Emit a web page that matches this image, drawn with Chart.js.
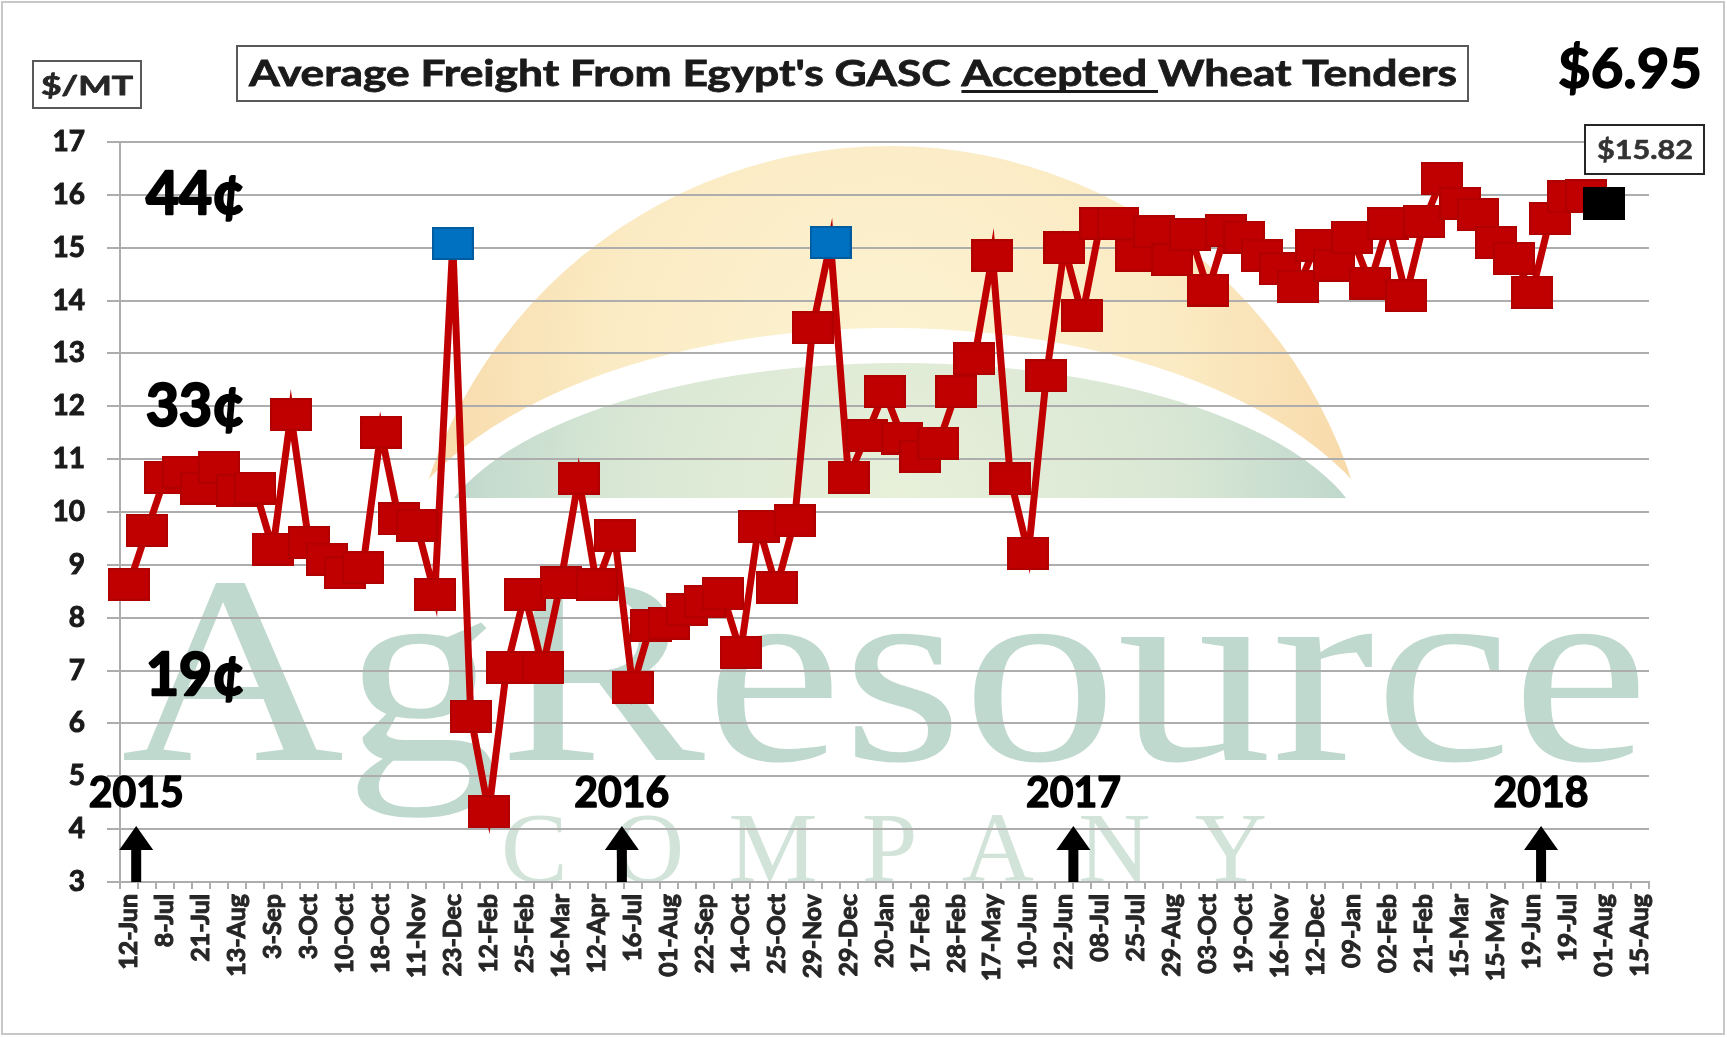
<!DOCTYPE html>
<html>
<head>
<meta charset="utf-8">
<title>Average Freight From Egypt's GASC Accepted Wheat Tenders</title>
<script src="https://cdn.jsdelivr.net/npm/chart.js@4.4.1/dist/chart.umd.min.js"></script>
<style>
  html, body { margin: 0; padding: 0; background: #fff; }
  canvas { display: block; }
</style>
</head>
<body>
<canvas id="freightChart" width="1727" height="1038"></canvas>
<script>
// one date label for every second tender
const tickDates = ['12-Jun', '8-Jul', '21-Jul', '13-Aug', '3-Sep', '3-Oct', '10-Oct', '18-Oct', '11-Nov', '23-Dec',
  '12-Feb', '25-Feb', '16-Mar', '12-Apr', '16-Jul', '01-Aug', '22-Sep', '14-Oct', '25-Oct', '29-Nov',
  '29-Dec', '20-Jan', '17-Feb', '28-Feb', '17-May', '10-Jun', '22-Jun', '08-Jul', '25-Jul', '29-Aug',
  '03-Oct', '19-Oct', '16-Nov', '12-Dec', '09-Jan', '02-Feb', '21-Feb', '15-Mar', '15-May', '19-Jun',
  '19-Jul', '01-Aug', '15-Aug'];

// average freight per accepted tender, $/MT
const freight = [8.63, 9.65, 10.65, 10.75, 10.45, 10.85, 10.4, 10.45, 9.3, 11.84,
  9.42, 9.11, 8.85, 8.95, 11.51, 9.87, 9.75, 8.44, 15.08, 6.14,
  4.33, 7.06, 8.44, 7.06, 8.66, 10.64, 8.62, 9.56, 6.68, 7.85,
  7.9, 8.15, 8.3, 8.45, 7.35, 9.73, 8.57, 9.83, 13.49, 15.1,
  10.66, 11.45, 12.28, 11.4, 11.05, 11.3, 12.28, 12.9, 14.85, 10.63,
  9.22, 12.58, 15.0, 13.72, 15.46, 15.46, 14.86, 15.3, 14.77, 15.25,
  14.2, 15.33, 15.2, 14.86, 14.6, 14.27, 15.05, 14.67, 15.19, 14.33,
  15.46, 14.1, 15.5, 16.31, 15.84, 15.63, 15.1, 14.8, 14.16, 15.55,
  15.96, 15.98, 15.84];

const blueTenders = [18, 39];
const latestLabel = '$15.82';
const changeLabel = '$6.95';

// cent notes on the left, at their $/MT level
const centTexts = ['44¢', '33¢', '19¢'];
const centLevels = [16, 12, 6.9];

// year markers, placed at a category position
const years = ['2015', '2016', '2017', '2018'];
const yearAt = [0.4, 27.4, 52.5, 78.5];

const categories = [];
for (let i = 0; i < tickDates.length * 2 - 1; i++) categories.push(i % 2 ? '' : tickDates[i / 2]);

const gridGray = '#ADADAD';
const FONT = 'Lato, "Open Sans", sans-serif';

function markerBox(fill, edge) {
  const c = document.createElement('canvas');
  c.width = 42;
  c.height = 33;
  const g = c.getContext('2d');
  g.fillStyle = fill;
  g.fillRect(0, 0, 42, 33);
  g.strokeStyle = edge;
  g.lineWidth = 2;
  g.strokeRect(1, 1, 40, 31);
  return c;
}
const redBox = markerBox('#C00000', '#B00000');
const blueBox = markerBox('#0070C0', '#005C9E');
const blackBox = markerBox('#000000', '#000000');

// text squeezed or widened to the width it has in the original
function fitText(ctx, text, x, y, width, align, heavy) {
  const w = ctx.measureText(text).width;
  ctx.save();
  ctx.translate(x, y);
  ctx.scale(width / w, 1);
  ctx.textAlign = align || 'left';
  if (heavy) {
    ctx.lineWidth = heavy;
    ctx.lineJoin = 'round';
    ctx.strokeStyle = ctx.fillStyle;
    ctx.strokeText(text, 0, 0);
  }
  ctx.fillText(text, 0, 0);
  ctx.restore();
}

function drawWatermark(ctx) {
  ctx.save();
  ctx.fillStyle = '#fff';
  ctx.fillRect(0, 0, 1727, 1038);

  ctx.save();
  ctx.beginPath();
  ctx.rect(0, 0, 1727, 498);
  ctx.clip();
  const sun = ctx.createRadialGradient(890, 360, 0, 890, 360, 560);
  sun.addColorStop(0, '#FCF3D2');
  sun.addColorStop(0.5, '#FBEBC4');
  sun.addColorStop(1, '#F6D29E');
  ctx.fillStyle = sun;
  ctx.beginPath();
  ctx.arc(890, 632, 486, 0, Math.PI * 2);
  ctx.fill();
  ctx.fillStyle = '#fff';
  ctx.beginPath();
  ctx.ellipse(890, 600, 515, 272, 0, 0, Math.PI * 2);
  ctx.fill();
  const hill = ctx.createRadialGradient(900, 498, 0, 900, 498, 480);
  hill.addColorStop(0, '#E8F0DA');
  hill.addColorStop(0.6, '#D8E7D4');
  hill.addColorStop(1, '#BAD5CB');
  ctx.fillStyle = hill;
  ctx.beginPath();
  ctx.ellipse(900, 560, 470, 197, 0, 0, Math.PI * 2);
  ctx.fill();
  ctx.restore();

  ctx.fillStyle = '#C0D9CE';
  ctx.font = '268px "Liberation Serif", "DejaVu Serif", serif';
  ctx.textBaseline = 'alphabetic';
  fitText(ctx, 'AgResource', 121, 760, 1528);

  ctx.fillStyle = '#D2E4DA';
  ctx.font = '100px "Liberation Serif", "DejaVu Serif", serif';
  const letters = 'COMPANY'.split('');
  const widths = letters.map(l => ctx.measureText(l).width);
  const gap = (766 - widths.reduce((a, b) => a + b, 0)) / (letters.length - 1);
  let x = 501;
  letters.forEach((l, i) => {
    ctx.fillText(l, x, 881);
    x += widths[i] + gap;
  });
  ctx.restore();
}

const decor = {
  id: 'decor',
  beforeDraw(chart) {
    drawWatermark(chart.ctx);
  },
  afterDraw(chart) {
    const ctx = chart.ctx;
    const xs = chart.scales.x;
    const ys = chart.scales.y;
    ctx.save();
    ctx.textBaseline = 'alphabetic';

    // title box
    ctx.fillStyle = '#fff';
    ctx.fillRect(237, 46, 1231, 55);
    ctx.strokeStyle = '#595959';
    ctx.lineWidth = 2;
    ctx.strokeRect(237, 46, 1231, 55);
    ctx.fillStyle = '#1a1a1a';
    ctx.font = `bold 36px ${FONT}`;
    const parts = ["Average Freight From Egypt's GASC ", 'Accepted ', 'Wheat Tenders'];
    const natural = parts.map(p => ctx.measureText(p).width);
    const sx = 1208 / natural.reduce((a, b) => a + b, 0);
    let tx = 249;
    parts.forEach((p, i) => {
      ctx.save();
      ctx.translate(tx, 86);
      ctx.scale(sx, 1);
      ctx.lineWidth = 0.8;
      ctx.strokeStyle = '#1a1a1a';
      ctx.strokeText(p, 0, 0);
      ctx.fillText(p, 0, 0);
      ctx.restore();
      if (i === 1) {
        ctx.fillRect(tx, 90, natural[i] * sx, 3);
      }
      tx += natural[i] * sx;
    });

    // unit box
    ctx.strokeStyle = '#595959';
    ctx.strokeRect(33, 61, 108, 47);
    ctx.font = `bold 27px ${FONT}`;
    ctx.fillStyle = '#262626';
    fitText(ctx, '$/MT', 87, 95, 92, 'center', 0.8);

    // change since start
    ctx.fillStyle = '#000';
    ctx.font = `bold 56px ${FONT}`;
    fitText(ctx, changeLabel, 1702, 88, 144, 'right', 1.5);

    // latest value box
    ctx.fillStyle = '#fff';
    ctx.fillRect(1585, 125, 119, 49);
    ctx.strokeStyle = '#262626';
    ctx.strokeRect(1585, 125, 119, 49);
    ctx.fillStyle = '#333';
    ctx.font = `bold 27px ${FONT}`;
    fitText(ctx, latestLabel, 1645, 159, 96, 'center', 0.6);

    // cent notes
    ctx.fillStyle = '#000';
    ctx.font = `bold 60px ${FONT}`;
    ctx.textBaseline = 'middle';
    centTexts.forEach((t, i) => {
      fitText(ctx, t, xs.getPixelForValue(0.95), ys.getPixelForValue(centLevels[i]), 99, 'left', 2.5);
    });

    // years with arrows up from the axis
    ctx.textBaseline = 'alphabetic';
    ctx.font = `bold 42px ${FONT}`;
    years.forEach((yr, i) => {
      const cx = xs.getPixelForValue(yearAt[i]);
      fitText(ctx, yr, cx, 807, 95, 'center', 1.5);
      const base = ys.getPixelForValue(3);
      ctx.beginPath();
      ctx.moveTo(cx, base - 56);
      ctx.lineTo(cx + 17, base - 32);
      ctx.lineTo(cx + 5, base - 32);
      ctx.lineTo(cx + 5, base);
      ctx.lineTo(cx - 5, base);
      ctx.lineTo(cx - 5, base - 32);
      ctx.lineTo(cx - 17, base - 32);
      ctx.closePath();
      ctx.fill();
    });

    // outer frame
    ctx.strokeStyle = '#C8C8C8';
    ctx.lineWidth = 2;
    ctx.strokeRect(2, 2, 1722, 1032);
    ctx.restore();
  }
};

new Chart(document.getElementById('freightChart'), {
  type: 'line',
  data: {
    labels: categories,
    datasets: [{
      data: freight,
      borderColor: '#C00000',
      borderWidth: 7,
      tension: 0,
      clip: false,
      pointRadius: 6,
      pointStyle: ctx => ctx.dataIndex === freight.length - 1 ? blackBox
        : blueTenders.includes(ctx.dataIndex) ? blueBox : redBox
    }]
  },
  options: {
    responsive: false,
    devicePixelRatio: 1,
    animation: false,
    events: [],
    layout: { padding: { left: 20, top: 142, right: 78, bottom: 0 } },
    plugins: { legend: { display: false }, tooltip: { enabled: false } },
    scales: {
      x: {
        offset: true,
        grid: { offset: true, drawOnChartArea: false, tickLength: 7, color: gridGray, lineWidth: 2 },
        border: { color: gridGray, width: 2 },
        ticks: {
          autoSkip: false, minRotation: 90, maxRotation: 90, padding: 5,
          color: '#262626', textStrokeColor: '#262626', textStrokeWidth: 1,
          font: { family: FONT, weight: 'bold', size: 25 }
        },
        afterFit: s => { s.height = 156; }
      },
      y: {
        min: 3,
        max: 17,
        ticks: {
          stepSize: 1, padding: 22, color: '#1a1a1a', textStrokeColor: '#1a1a1a', textStrokeWidth: 1,
          font: { family: FONT, weight: 'bold', size: 28 }
        },
        grid: { color: gridGray, lineWidth: 2, tickLength: 13 },
        border: { color: gridGray, width: 2 },
        afterFit: s => { s.width = 100; }
      }
    }
  },
  plugins: [decor]
});
</script>
</body>
</html>
